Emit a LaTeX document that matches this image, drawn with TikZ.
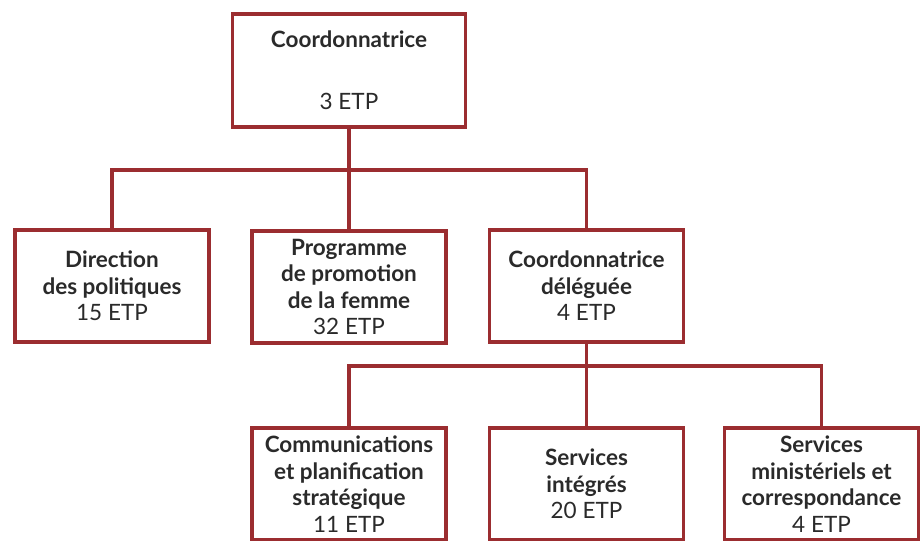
\documentclass[tikz,border=0pt]{standalone}
\usepackage{fontspec}
\setmainfont{Lato}
\definecolor{boxred}{HTML}{9B2D30}
\definecolor{boxtext}{HTML}{2A2A2A}
\begin{document}
\begin{tikzpicture}[x=0.025cm,y=-0.025cm,
    unit/.style={draw=boxred,line width=2.6pt,fill=white,text=boxtext,align=center,
        inner sep=0pt,minimum width=4.85cm,minimum height=2.8cm,
        font=\fontsize{16}{18.8}\selectfont},
    head/.style={minimum width=5.825cm,minimum height=2.825cm},
    link/.style={draw=boxred,line width=2.6pt}]
    \useasboundingbox (0,0) rectangle (924,540);
    \clip (0,0) rectangle (924,540);
    \node[unit,head] (coord) at (349,70.5) {\textbf{Coordonnatrice}\\[25pt]3 ETP};
    \node[unit] (dir) at (112,286) {\textbf{Direction}\\\textbf{des politiques}\\15 ETP};
    \node[unit] (prog) at (349,287) {\textbf{Programme}\\\textbf{de promotion}\\\textbf{de la femme}\\32 ETP};
    \node[unit] (deleg) at (586.5,286) {\textbf{Coordonnatrice}\\\textbf{déléguée}\\4 ETP};
    \node[unit] (comm) at (349,484) {\textbf{Communications}\\\textbf{et planification}\\\textbf{stratégique}\\11 ETP};
    \node[unit] (serv) at (586.5,484) {\textbf{Services}\\\textbf{intégrés}\\20 ETP};
    \node[unit] (mini) at (821.5,484) {\textbf{Services}\\\textbf{ministériels et}\\\textbf{correspondance}\\4 ETP};
    \coordinate (bus1) at (349,170);
    \coordinate (bus2) at (586.5,366);
    \draw[link] (coord.south) -- (bus1);
    \draw[link] (dir.north) |- (bus1) -| (deleg.north);
    \draw[link] (bus1) -- (prog.north);
    \draw[link] (deleg.south) -- (bus2);
    \draw[link] (comm.north) |- (bus2) -| (mini.north);
    \draw[link] (bus2) -- (serv.north);
\end{tikzpicture}
\end{document}
